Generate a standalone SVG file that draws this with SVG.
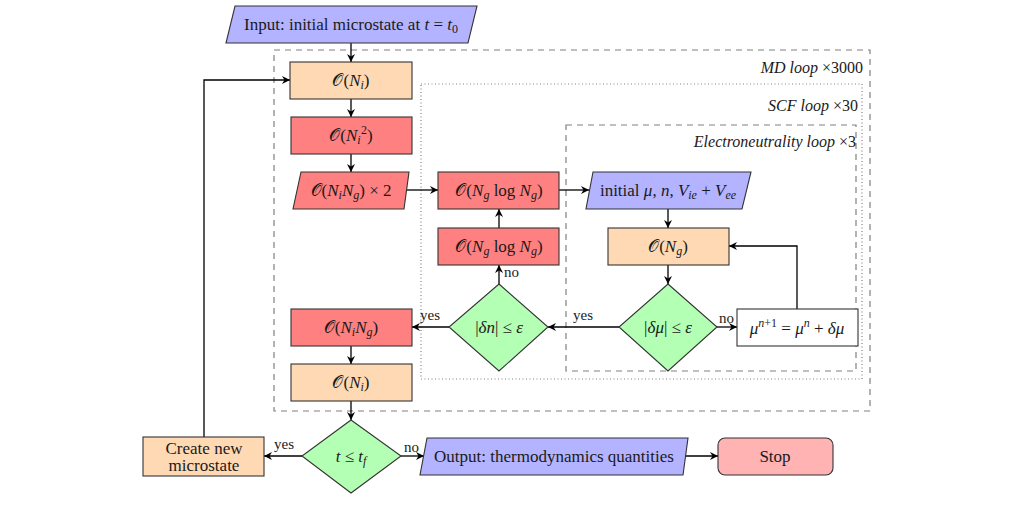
<svg xmlns="http://www.w3.org/2000/svg" width="1009" height="517" viewBox="0 0 1009 517">
<style>
.t{font-family:"Liberation Serif","DejaVu Serif",serif;font-size:17px;fill:#1a1a1a;text-anchor:middle}
.l{font-family:"Liberation Serif","DejaVu Serif",serif;font-size:16px;fill:#1a1a1a}
.y{font-size:15px}
.r{text-anchor:end}
.i{font-style:italic}
.s{font-size:12px}
.node{stroke:#333;stroke-width:1.1}
.blue{fill:#b3b3ff}
.orange{fill:#ffd9b3}
.red{fill:#ff8080}
.green{fill:#b3ffb3}
.pink{fill:#ffb3b3}
.white{fill:#fff}
.loop{fill:none;stroke:#808080;stroke-width:1.2}
.dash{stroke-dasharray:6,5}
.dot{stroke-dasharray:1,2.5}
.c{fill:none;stroke:#000;stroke-width:1.3;marker-end:url(#ah)}
</style>
<defs>
<marker id="ah" markerUnits="userSpaceOnUse" markerWidth="10" markerHeight="10" refX="8" refY="4" orient="auto">
<path d="M0,0 L8,4 L0,8 L2.5,4 z" fill="#000"/>
</marker>
</defs>
<rect width="1009" height="517" fill="#fff"/>

<g id="loops">
<rect class="loop dash" x="274" y="50" width="596" height="361"/>
<text class="l i r" x="863" y="73">MD loop <tspan font-style="normal">×3000</tspan></text>
<rect class="loop dot" x="421" y="84" width="441" height="295"/>
<text class="l i r" x="858" y="111">SCF loop <tspan font-style="normal">×30</tspan></text>
<rect class="loop dash" x="566" y="125" width="290" height="246"/>
<text class="l i r" x="856" y="147">Electroneutrality loop <tspan font-style="normal">×3</tspan></text>
</g>

<g id="connectors">
<path class="c" d="M351,43 V62"/>
<path class="c" d="M351,99 V117"/>
<path class="c" d="M351,154 V172"/>
<path class="c" d="M406,190 H438"/>
<path class="c" d="M559,190 H589"/>
<path class="c" d="M668,209 V228"/>
<path class="c" d="M668,265 V284"/>
<path class="c" d="M717,327 H737"/>
<path class="c" d="M797,309 V246 H729"/>
<path class="c" d="M619,327 H548"/>
<path class="c" d="M499,284 V265"/>
<path class="c" d="M499,228 V209"/>
<path class="c" d="M449,327 H412"/>
<path class="c" d="M351,346 V364"/>
<path class="c" d="M351,401 V420"/>
<path class="c" d="M302,456 H264"/>
<path class="c" d="M401,456 H424"/>
<path class="c" d="M685,456 H718"/>
<path class="c" d="M204,437 V80 H290"/>
<text class="l y" x="719" y="323">no</text>
<text class="l y" x="573" y="320">yes</text>
<text class="l y" x="504" y="277">no</text>
<text class="l y" x="420" y="320">yes</text>
<text class="l y" x="274" y="449">yes</text>
<text class="l y" x="404" y="452">no</text>
</g>

<g id="input">
<polygon class="node blue" points="235,6 477,6 468,43 226,43"/>
<text class="t" x="351" y="30">Input: initial microstate at <tspan class="i">t</tspan> = <tspan class="i">t</tspan><tspan class="s" dy="3">0</tspan></text>
</g>

<g id="o-ni-1">
<rect class="node orange" x="290" y="62" width="122" height="37"/>
<text class="t" x="351" y="86">𝒪(<tspan class="i">N</tspan><tspan class="i s" dy="3">i</tspan><tspan dy="-3">)</tspan></text>
</g>

<g id="o-ni2">
<rect class="node red" x="291" y="117" width="121" height="37"/>
<text class="t" x="351" y="141">𝒪(<tspan class="i">N</tspan><tspan class="i s" dy="3">i</tspan><tspan class="s" dx="0.5" dy="-10">2</tspan><tspan dy="7">)</tspan></text>
</g>

<g id="o-ning-2">
<polygon class="node red" points="301,172 409,172 404,209 293,209"/>
<text class="t" x="351" y="196">𝒪(<tspan class="i">N</tspan><tspan class="i s" dy="3">i</tspan><tspan class="i" dy="-3">N</tspan><tspan class="i s" dy="3">g</tspan><tspan dy="-3">) × 2</tspan></text>
</g>

<g id="o-nglog-1">
<rect class="node red" x="438" y="172" width="121" height="37"/>
<text class="t" x="499" y="196">𝒪(<tspan class="i">N</tspan><tspan class="i s" dy="3">g</tspan><tspan dy="-3"> log </tspan><tspan class="i">N</tspan><tspan class="i s" dy="3">g</tspan><tspan dy="-3">)</tspan></text>
</g>

<g id="o-nglog-2">
<rect class="node red" x="438" y="228" width="121" height="37"/>
<text class="t" x="499" y="252">𝒪(<tspan class="i">N</tspan><tspan class="i s" dy="3">g</tspan><tspan dy="-3"> log </tspan><tspan class="i">N</tspan><tspan class="i s" dy="3">g</tspan><tspan dy="-3">)</tspan></text>
</g>

<g id="initial">
<polygon class="node blue" points="593,172 751,172 742,209 586,209"/>
<text class="t" x="668" y="196">initial <tspan class="i">μ</tspan>, <tspan class="i">n</tspan>, <tspan class="i">V</tspan><tspan class="i s" dy="3">ie</tspan><tspan dy="-3"> + </tspan><tspan class="i">V</tspan><tspan class="i s" dy="3">ee</tspan></text>
</g>

<g id="o-ng">
<rect class="node orange" x="608" y="228" width="121" height="37"/>
<text class="t" x="668" y="252">𝒪(<tspan class="i">N</tspan><tspan class="i s" dy="3">g</tspan><tspan dy="-3">)</tspan></text>
</g>

<g id="dmu">
<polygon class="node green" points="668,284 717,327 668,371 619,327"/>
<text class="t" x="668" y="333">|<tspan class="i">δμ</tspan>| ≤ <tspan class="i">ε</tspan></text>
</g>

<g id="update">
<rect class="node white" x="737" y="309" width="121" height="37"/>
<text class="t" x="797" y="334"><tspan class="i">μ</tspan><tspan class="i s" dy="-7">n</tspan><tspan class="s">+1</tspan><tspan dy="7"> = </tspan><tspan class="i">μ</tspan><tspan class="i s" dy="-7">n</tspan><tspan dy="7"> + </tspan><tspan class="i">δμ</tspan></text>
</g>

<g id="dn">
<polygon class="node green" points="499,284 548,327 499,371 449,327"/>
<text class="t" x="499" y="333">|<tspan class="i">δn</tspan>| ≤ <tspan class="i">ε</tspan></text>
</g>

<g id="o-ning">
<rect class="node red" x="291" y="309" width="121" height="37"/>
<text class="t" x="351" y="333">𝒪(<tspan class="i">N</tspan><tspan class="i s" dy="3">i</tspan><tspan class="i" dy="-3">N</tspan><tspan class="i s" dy="3">g</tspan><tspan dy="-3">)</tspan></text>
</g>

<g id="o-ni-2">
<rect class="node orange" x="291" y="364" width="121" height="37"/>
<text class="t" x="351" y="388">𝒪(<tspan class="i">N</tspan><tspan class="i s" dy="3">i</tspan><tspan dy="-3">)</tspan></text>
</g>

<g id="ttf">
<polygon class="node green" points="351,420 401,456 351,493 302,456"/>
<text class="t" x="351" y="462"><tspan class="i">t</tspan> ≤ <tspan class="i">t</tspan><tspan class="i s" dy="3">f</tspan></text>
</g>

<g id="create">
<rect class="node orange" x="143" y="437" width="121" height="39"/>
<text class="t" x="204" y="454">Create new</text>
<text class="t" x="204" y="471">microstate</text>
</g>

<g id="output">
<polygon class="node blue" points="427,438 688,438 683,475 420,475"/>
<text class="t" x="554" y="462">Output: thermodynamics quantities</text>
</g>

<g id="stop">
<rect class="node pink" x="718" y="438" width="115" height="37" rx="7"/>
<text class="t" x="775" y="462">Stop</text>
</g>
</svg>
